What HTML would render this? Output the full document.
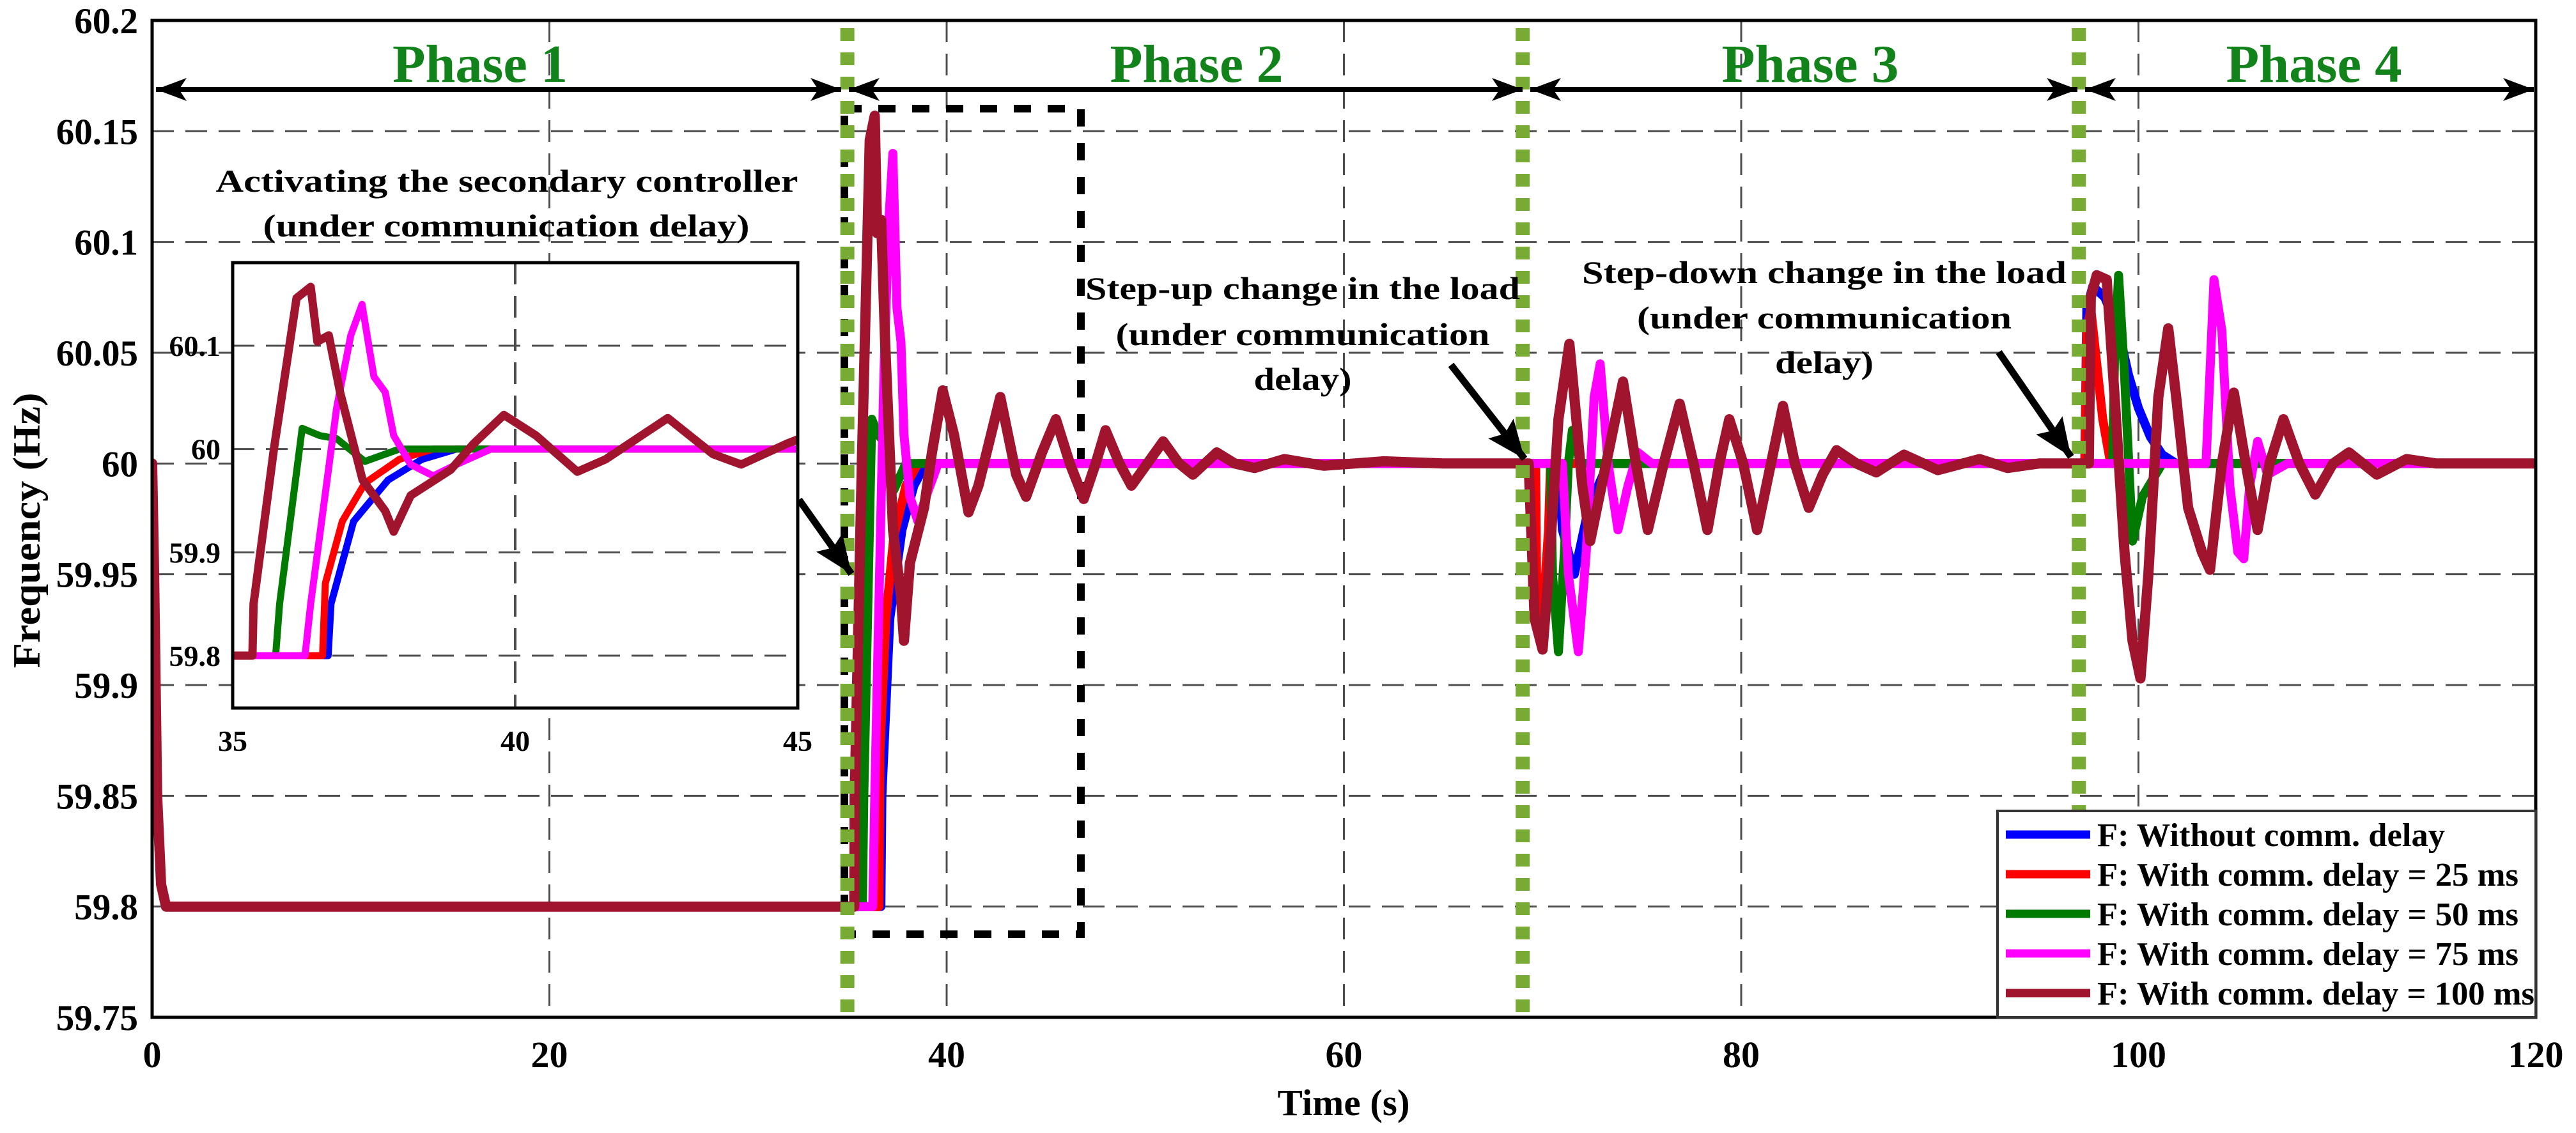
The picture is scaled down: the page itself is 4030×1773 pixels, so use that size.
<!DOCTYPE html>
<html><head><meta charset="utf-8"><style>
html,body{margin:0;padding:0;background:#fff;}
svg{display:block;}
text{font-family:"Liberation Serif",serif;font-weight:bold;}
</style></head><body>
<svg id="chart" width="4030" height="1773" viewBox="0 0 4030 1773" xmlns="http://www.w3.org/2000/svg">
<defs>
<clipPath id="plotClip"><rect x="238" y="32" width="3729" height="1560"/></clipPath>
<clipPath id="insetClip"><rect x="364" y="411" width="884" height="697"/></clipPath>
<marker id="headR" markerWidth="60" markerHeight="40" refX="48" refY="20" orient="auto" markerUnits="userSpaceOnUse"><path d="M0,2 L48,20 L0,38 L12,20 Z" fill="#000"/></marker>
<marker id="headL" markerWidth="60" markerHeight="40" refX="0" refY="20" orient="auto" markerUnits="userSpaceOnUse"><path d="M48,2 L0,20 L48,38 L36,20 Z" fill="#000"/></marker>
<marker id="headA" markerWidth="70" markerHeight="50" refX="60" refY="25" orient="auto" markerUnits="userSpaceOnUse"><path d="M0,0 L60,25 L0,50 L10,25 Z" fill="#000"/></marker>
</defs>
<rect x="0" y="0" width="4030" height="1773" fill="#fff"/>
<g id="grid"></g>
<g id="yticks"></g>
<g id="xticks"></g>
<text x="2102" y="1745" font-size="58" text-anchor="middle" textLength="207" lengthAdjust="spacingAndGlyphs">Time (s)</text>
<text transform="translate(62,830) rotate(-90)" font-size="60" text-anchor="middle" textLength="431" lengthAdjust="spacingAndGlyphs">Frequency (Hz)</text>
<rect x="1321" y="170" width="370" height="1292" fill="none" stroke="#000" stroke-width="12" stroke-dasharray="27 26"/>
<g id="series" clip-path="url(#plotClip)"></g>
<g id="phaseLines"></g>
<g stroke="#000" stroke-width="8" fill="none">
<line x1="244" y1="140" x2="1316" y2="140" marker-start="url(#headL)" marker-end="url(#headR)"/>
<line x1="1328" y1="140" x2="2382" y2="140" marker-start="url(#headL)" marker-end="url(#headR)"/>
<line x1="2394" y1="140" x2="3250" y2="140" marker-start="url(#headL)" marker-end="url(#headR)"/>
<line x1="3262" y1="140" x2="3964" y2="140" marker-start="url(#headL)" marker-end="url(#headR)"/>
</g>
<g fill="#12821a" font-size="84" text-anchor="middle">
<text x="751" y="128" textLength="274" lengthAdjust="spacingAndGlyphs">Phase 1</text>
<text x="1872" y="128" textLength="271" lengthAdjust="spacingAndGlyphs">Phase 2</text>
<text x="2832" y="128" textLength="277" lengthAdjust="spacingAndGlyphs">Phase 3</text>
<text x="3620" y="128" textLength="275" lengthAdjust="spacingAndGlyphs">Phase 4</text>
</g>
<g font-size="50" text-anchor="middle" fill="#000">
<text x="793" y="300" textLength="911" lengthAdjust="spacingAndGlyphs">Activating the secondary controller</text>
<text x="792" y="370" textLength="761" lengthAdjust="spacingAndGlyphs">(under communication delay)</text>
<text x="2038" y="468" textLength="680" lengthAdjust="spacingAndGlyphs">Step-up change in the load</text>
<text x="2038" y="540" textLength="585" lengthAdjust="spacingAndGlyphs">(under communication</text>
<text x="2038" y="610" textLength="153" lengthAdjust="spacingAndGlyphs">delay)</text>
<text x="2854" y="443" textLength="758" lengthAdjust="spacingAndGlyphs">Step-down change in the load</text>
<text x="2854" y="514" textLength="586" lengthAdjust="spacingAndGlyphs">(under communication</text>
<text x="2854" y="584" textLength="154" lengthAdjust="spacingAndGlyphs">delay)</text>
</g>
<g stroke="#000" stroke-width="11" fill="none">
<line x1="1250" y1="782" x2="1332" y2="898" marker-end="url(#headA)"/>
<line x1="2270" y1="571" x2="2385" y2="718" marker-end="url(#headA)"/>
<line x1="3127" y1="551" x2="3240" y2="715" marker-end="url(#headA)"/>
</g>
<rect x="364" y="411" width="884" height="697" fill="#fff" stroke="#000" stroke-width="5"/>
<g id="insetGrid"></g>
<g id="insetSeries" clip-path="url(#insetClip)"></g>
<rect x="364" y="411" width="884" height="697" fill="none" stroke="#000" stroke-width="5"/>
<g id="insetTicks"></g>
<rect x="238" y="32" width="3729" height="1560" fill="none" stroke="#000" stroke-width="5"/>
<g id="legend"></g>
</svg>
<script>
const yTicks=[59.75,59.8,59.85,59.9,59.95,60,60.05,60.1,60.15,60.2];
const yTickLabels=["59.75","59.8","59.85","59.9","59.95","60","60.05","60.1","60.15","60.2"];
const xTicks=[0,20,40,60,80,100,120];
const xTickLabels=["0","20","40","60","80","100","120"];
const phaseBounds=[35,69,97];
const insetXTicks=[35,40,45];
const insetYTicks=[59.8,59.9,60,60.1];
const insetYTickLabels=["59.8","59.9","60","60.1"];
const seriesNames=["F: Without comm. delay","F: With comm. delay = 25 ms","F: With comm. delay = 50 ms","F: With comm. delay = 75 ms","F: With comm. delay = 100 ms"];
const blueT=[0,0.1,0.25,0.45,0.7,36.69,36.74,37.14,37.75,38.35,38.96,70.8,71.0,71.6,72.2,72.8,73.3,97.3,97.4,97.7,98.3,99,99.5,100,100.6,101.2,101.9,120];
const blueF=[60,59.95,59.85,59.81,59.8,59.8,59.85,59.93,59.97,59.99,60.0,60.0,59.97,59.95,59.975,59.99,60.0,60,60.07,60.08,60.075,60.06,60.04,60.025,60.012,60.004,60.0,60];
const redT=[0,0.1,0.25,0.45,0.7,36.59,36.64,36.94,37.34,37.95,38.55,69.65,69.7,70.0,70.3,70.4,97.3,97.4,97.6,98.2,98.6,120];
const redF=[60,59.95,59.85,59.81,59.8,59.8,59.87,59.93,59.967,59.99,60.0,60.0,59.95,59.93,59.97,60.0,60.0,60.06,60.07,60.02,60.0,60];
const greenT=[0,0.1,0.25,0.45,0.7,35.76,35.83,36.23,36.54,36.84,37.34,37.95,70.4,70.5,70.8,71.1,71.3,71.5,71.9,98.7,98.8,99.0,99.3,99.7,100.2,101.2,120];
const greenF=[60,59.95,59.85,59.81,59.8,59.8,59.85,60.02,60.013,60.01,59.988,60.0,60.0,59.95,59.915,59.96,60.0,60.015,60.0,60.0,60.05,60.085,60.04,59.965,59.985,60.0,60];
const magentaT=[0,0.1,0.25,0.45,0.7,36.28,36.38,36.84,37.09,37.29,37.5,37.7,37.85,38.15,38.55,38.96,39.57,71.0,71.3,71.8,72.2,72.6,72.9,73.3,73.8,74.3,74.8,75.5,103.4,103.8,104.2,104.6,105.0,105.3,105.6,106.0,106.5,107.5,120];
const magentaF=[60,59.95,59.85,59.81,59.8,59.8,59.85,60.04,60.11,60.14,60.07,60.055,60.013,59.985,59.974,59.985,60.0,60.0,59.95,59.915,59.96,60.03,60.045,60.0,59.97,59.99,60.005,60.0,60.0,60.083,60.06,59.99,59.96,59.957,59.99,60.01,59.995,60.0,60];
const maroonT=[0,0.1,0.25,0.45,0.7,35.35,35.37,35.73,36.13,36.38,36.5,36.7,36.9,37.3,37.7,37.85,38.15,38.86,39.26,39.8,40.37,41.1,41.6,42.7,43.5,44.0,44.8,45.5,46.2,46.9,47.5,48.0,48.7,49.3,50.1,50.9,51.7,52.4,53.0,53.6,54.5,55.5,57,59,62,65,69.3,69.6,70.0,70.3,70.8,71.35,71.6,72.0,72.4,73.2,74.05,74.7,75.3,76.1,76.9,77.6,78.3,78.9,79.4,80.1,80.8,81.5,82.1,82.7,83.4,84.1,84.8,85.8,86.8,88.2,89.9,92,93.4,95,97.5,97.6,97.9,98.4,98.8,99.3,99.7,100.1,100.5,101.0,101.5,101.9,102.5,103.2,103.6,104.2,104.8,105.4,106.0,106.6,107.3,108.1,108.9,109.8,110.6,112,113.5,115,120];
const maroonF=[60,59.95,59.85,59.81,59.8,59.8,59.85,60.0,60.146,60.157,60.104,60.11,60.055,59.97,59.94,59.92,59.955,59.98,60.005,60.033,60.013,59.978,59.99,60.03,59.995,59.985,60.005,60.02,60.0,59.984,60.0,60.015,60.0,59.99,60.0,60.01,60.0,59.995,60.0,60.005,60.0,59.998,60.002,59.999,60.001,60.0,60.0,59.93,59.916,59.95,60.02,60.054,60.03,59.99,59.965,60.0,60.037,60.0,59.97,60.0,60.027,60.0,59.97,60.0,60.02,60.0,59.97,60.0,60.026,60.0,59.98,59.995,60.006,60.0,59.996,60.004,59.997,60.002,59.998,60.0,60.0,60.075,60.085,60.083,60.03,59.96,59.92,59.903,59.95,60.03,60.061,60.03,59.98,59.96,59.952,60.0,60.032,60.0,59.97,60.0,60.02,60.0,59.986,60.0,60.005,59.995,60.002,60.0,60.0];
const seriesT=[blueT,redT,greenT,magentaT,maroonT];
const seriesF=[blueF,redF,greenF,magentaF,maroonF];
const colors=["#0000ff","#ff0000","#007a00","#ff00ff","#a0142e"];
const keys=["blue","red","green","magenta","maroon"];
const legendWidths=[544,659,659,659,684];

const NS="http://www.w3.org/2000/svg";
const X0=238,X1=3967,Y0=32,Y1=1592;
function sx(t){return X0+(t-0)/(120-0)*(X1-X0);}
function sy(v){return Y1-(v-59.75)/(60.2-59.75)*(Y1-Y0);}
const IX0=364,IX1=1248,IY0=411,IY1=1108;
function ix(t){return IX0+(t-35)/(45-35)*(IX1-IX0);}
function iy(v){return 1026-(v-59.8)/(0.3)*(1026-541);}
function mk(tag,attrs,parent){const e=document.createElementNS(NS,tag);for(const k in attrs)e.setAttribute(k,attrs[k]);parent.appendChild(e);return e;}
const grid=document.getElementById('grid');
xTicks.forEach((t,i)=>{if(t>0&&t<120){const l=mk('line',{x1:sx(t),x2:sx(t),y1:Y0,y2:Y1,stroke:'#4d4d4d','stroke-width':3,'stroke-dasharray':'34 18'},grid);

}
const tx=mk('text',{x:sx(t),y:1670,'font-size':58,'text-anchor':'middle'},document.getElementById('xticks'));tx.textContent=xTickLabels[i];

});
yTicks.forEach((v,i)=>{if(v>59.75&&v<60.2){const l=mk('line',{x1:X0,x2:X1,y1:sy(v),y2:sy(v),stroke:'#4d4d4d','stroke-width':3,'stroke-dasharray':'34 18'},grid);

}
const tx=mk('text',{x:216,y:sy(v)+20,'font-size':57,'text-anchor':'end'},document.getElementById('yticks'));tx.textContent=yTickLabels[i];

});
function pathD(T,F,fx,fy){return T.map((t,i)=>(i?'L':'M')+fx(t).toFixed(1)+','+fy(F[i]).toFixed(1)).join(' ');}
const sg=document.getElementById('series'),ig=document.getElementById('insetSeries');
seriesT.forEach((T,k)=>{const p=mk('path',{d:pathD(T,seriesF[k],sx,sy),fill:'none',stroke:colors[k],'stroke-width':(k===4?16:14),'stroke-linejoin':'round','stroke-linecap':'round'},sg);

});
phaseBounds.forEach(t=>{const l=mk('line',{x1:sx(t),x2:sx(t),y1:Y0+12,y2:Y1,stroke:'#77ab33','stroke-width':22,'stroke-dasharray':'20 18'},document.getElementById('phaseLines'));

});
const igr=document.getElementById('insetGrid'),itk=document.getElementById('insetTicks');
insetYTicks.forEach((v,i)=>{const l=mk('line',{x1:IX0,x2:IX1,y1:iy(v),y2:iy(v),stroke:'#4d4d4d','stroke-width':3,'stroke-dasharray':'34 18'},igr);


const tx=mk('text',{x:345,y:iy(v)+16,'font-size':46,'text-anchor':'end'},itk);tx.textContent=insetYTickLabels[i];

});
insetXTicks.forEach(t=>{if(t>35&&t<45){const l=mk('line',{x1:ix(t),x2:ix(t),y1:IY0,y2:IY1,stroke:'#4d4d4d','stroke-width':4,'stroke-dasharray':'34 18'},igr);

}
const tx=mk('text',{x:ix(t),y:1175,'font-size':46,'text-anchor':'middle'},itk);tx.textContent=String(t);

});
seriesT.forEach((T,k)=>{const p=mk('path',{d:pathD(T,seriesF[k],ix,iy),fill:'none',stroke:colors[k],'stroke-width':(k===4?13:11),'stroke-linejoin':'round','stroke-linecap':'round'},ig);

});
const lg=document.getElementById('legend');
const box=mk('rect',{x:3125,y:1269,width:842,height:323,fill:'#fff',stroke:'#333','stroke-width':4},lg);


seriesNames.forEach((n,k)=>{const y=1306+k*62;
const l=mk('line',{x1:3138,x2:3270,y1:y,y2:y,stroke:colors[k],'stroke-width':13},lg);


const tx=mk('text',{x:3281,y:y+18,'font-size':52,textLength:legendWidths[k],lengthAdjust:'spacingAndGlyphs'},lg);tx.textContent=n;

});
</script>
</body></html>
